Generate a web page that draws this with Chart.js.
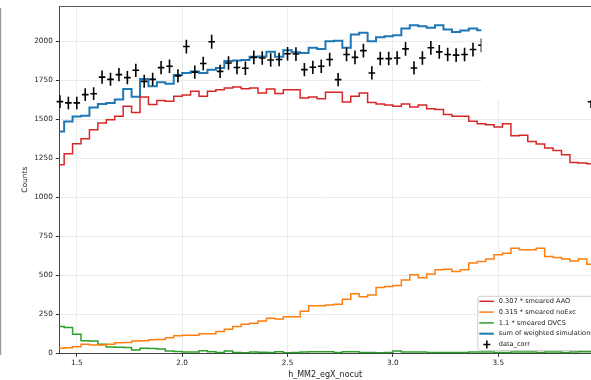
<!DOCTYPE html>
<html>
<head>
<meta charset="utf-8">
<script src="https://cdn.jsdelivr.net/npm/chart.js@4.4.1/dist/chart.umd.min.js"></script>
<style>
    html, body { margin: 0; padding: 0; background: #fff; }
    #wrap { width: 591px; height: 380px; }
</style>
</head>
<body>
<div id="wrap"><canvas id="chartMM2" width="591" height="380"></canvas></div>
<script>
// ============================================================
// h_MM2_egX_nocut - weighted simulations vs data
// ============================================================

var binWidth = 0.04;
var binCenters = [
    1.42, 1.46, 1.50, 1.54, 1.58, 1.62, 1.66, 1.70, 1.74, 1.78,
    1.82, 1.86, 1.90, 1.94, 1.98, 2.02, 2.06, 2.10, 2.14, 2.18,
    2.22, 2.26, 2.30, 2.34, 2.38, 2.42, 2.46, 2.50, 2.54, 2.58,
    2.62, 2.66, 2.70, 2.74, 2.78, 2.82, 2.86, 2.90, 2.94, 2.98,
    3.02, 3.06, 3.10, 3.14, 3.18, 3.22, 3.26, 3.30, 3.34, 3.38,
    3.42, 3.46, 3.50, 3.54, 3.58, 3.62, 3.66, 3.70, 3.74, 3.78,
    3.82, 3.86, 3.90, 3.94
];

var aaoValues = [
    1208, 1279, 1343, 1375, 1433, 1476, 1497, 1519, 1583, 1543,
    1642, 1594, 1621, 1615, 1647, 1656, 1679, 1647, 1679, 1690,
    1701, 1707, 1696, 1701, 1669, 1694, 1665, 1690, 1690, 1637,
    1643, 1632, 1673, 1673, 1611, 1647, 1669, 1608, 1598, 1592,
    1583, 1598, 1579, 1592, 1568, 1562, 1530, 1519, 1519, 1487,
    1472, 1465, 1451, 1472, 1395, 1397, 1358, 1341, 1316, 1300,
    1273, 1223, 1219, 1215
];

var noExcValues = [
    32, 36, 42, 58, 53, 53, 58, 68, 70, 79,
    81, 87, 89, 100, 113, 115, 115, 125, 125, 139,
    154, 171, 186, 193, 207, 225, 220, 235, 235, 270,
    304, 304, 310, 314, 347, 381, 363, 374, 421, 428,
    434, 470, 503, 485, 509, 535, 539, 524, 535, 578,
    588, 605, 631, 642, 674, 663, 663, 674, 620, 614,
    605, 592, 605, 571
];

var dvcsValues = [
    171, 165, 122, 81, 79, 58, 40, 39, 37, 21,
    32, 30, 28, 15, 12, 8, 8, 17, 10, 5,
    14, 5, 4, 8, 6, 5, 10, 3, 5, 8,
    10, 10, 10, 5, 10, 10, 5, 5, 3, 5,
    14, 8, 8, 8, 5, 5, 5, 5, 5, 8,
    8, 8, 5, 5, 8, 8, 8, 5, 8, 8,
    5, 8, 10, 10
];

// values hidden behind the pasted-over box are left null
var sumValues = [
    1422, 1485, 1517, 1522, 1575, 1598, 1605, 1626, 1694, 1645,
    1758, 1711, 1738, 1727, 1784, 1797, 1806, 1797, 1818, 1828,
    1874, 1876, 1880, 1900, 1903, 1932, 1900, 1942, 1930, 1925,
    1958, 1951, 2000, 2004, 1958, 2043, 2054, 2000, 2026, 2032,
    2039, 2082, 2103, 2096, 2086, 2103, 2075, 2060, 2069, 2082,
    2071, null, null, null, null, null, null, null, null, null,
    null, null, null, null
];

var dataCorr = [
    1613, 1605, 1605, 1658, 1664, 1770, 1756, 1786, 1767, 1814,
    1743, 1756, 1831, 1840, 1778, 1966, 1802, 1857, 1997, 1807,
    1861, 1832, 1827, 1897, 1893, 1880, 1883, 1920, 1918, 1818,
    1833, 1840, 1883, 1754, 1915, 1897, 1940, 1797, 1889, 1889,
    1893, 1951, 1829, 1893, 1958, 1932, 1915, 1911, 1915, 1947,
    1974, null, null, null, null, null, null, null, null, null,
    null, null, null, 1612
];

var xTicks = [1.5, 2.0, 2.5, 3.0, 3.5];
var yTicks = [0, 250, 500, 750, 1000, 1250, 1500, 1750, 2000];

var FONT = 'DejaVu Sans';
var colors = { aao: '#d62728', noexc: '#ff7f0e', dvcs: '#2ca02c', sum: '#1f77b4', data: '#000000' };

function stepPoints(vals) {
    var last = -1;
    vals.forEach(function(v, i) { if (v !== null) last = i; });
    var pts = [];
    for (var i = 0; i <= last; i++) pts.push({ x: binCenters[i] - binWidth / 2, y: vals[i] });
    pts.push({ x: binCenters[last] + binWidth / 2, y: vals[last] });
    return pts;
}

function markerPoints(vals) {
    var pts = [];
    vals.forEach(function(v, i) { if (v !== null) pts.push({ x: binCenters[i], y: v }); });
    return pts;
}

function stepSet(label, vals, color, width) {
    return { label: label, data: stepPoints(vals), borderColor: color, backgroundColor: color,
             borderWidth: width, stepped: 'before', pointRadius: 0, fill: false, showLine: true };
}

// error bars, the white box over the top right, top spine and the legend
var overlay = {
    id: 'overlay',
    afterDatasetsDraw: function(chart) {
        var ctx = chart.ctx, area = chart.chartArea;
        var xs = chart.scales.x, ys = chart.scales.y;
        var W = chart.width;

        ctx.save();
        ctx.beginPath();
        ctx.rect(area.left, area.top, W - area.left, area.bottom - area.top);
        ctx.clip();
        ctx.strokeStyle = colors.data;
        ctx.lineWidth = 1.6;
        chart.data.datasets[0].data.forEach(function(p) {
            var px = xs.getPixelForValue(p.x);
            var e = Math.sqrt(p.y);
            ctx.beginPath();
            ctx.moveTo(px, ys.getPixelForValue(p.y - e));
            ctx.lineTo(px, ys.getPixelForValue(p.y + e));
            ctx.stroke();
        });
        ctx.restore();

        // pasted-over white box
        var mx = xs.getPixelForValue(3.42);
        var my = ys.getPixelForValue(1622);
        ctx.fillStyle = '#ffffff';
        ctx.fillRect(mx, area.top + 1, W - mx, my - area.top - 1);

        // top spine
        ctx.strokeStyle = '#555';
        ctx.lineWidth = 1.2;
        ctx.beginPath();
        ctx.moveTo(area.left, area.top + 0.5);
        ctx.lineTo(W, area.top + 0.5);
        ctx.stroke();

        // screenshot edge on the far left
        ctx.fillStyle = '#9a9a9a';
        ctx.fillRect(0, 8, 1.2, 347);

        // legend
        var bx = area.left + 418, by = area.bottom - 57.5, bw = 130, bh = 54.2;
        ctx.fillStyle = 'rgba(255,255,255,0.85)';
        ctx.strokeStyle = '#cfcfcf';
        ctx.lineWidth = 1;
        ctx.beginPath();
        ctx.roundRect(bx + 0.5, by + 0.5, bw, bh, 2.5);
        ctx.fill();
        ctx.stroke();

        var order = [1, 2, 3, 4, 0];
        ctx.font = '6.6px "' + FONT + '"';
        ctx.textBaseline = 'middle';
        ctx.textAlign = 'left';
        order.forEach(function(di, row) {
            var ds = chart.data.datasets[di];
            var ry = by + 5.5 + row * 10.8;
            if (di === 0) {
                ctx.strokeStyle = colors.data;
                ctx.lineWidth = 1.6;
                ctx.beginPath();
                ctx.moveTo(bx + 6, ry); ctx.lineTo(bx + 13, ry);
                ctx.moveTo(bx + 9.5, ry - 4); ctx.lineTo(bx + 9.5, ry + 4);
                ctx.stroke();
            } else {
                ctx.strokeStyle = ds.borderColor;
                ctx.lineWidth = ds.borderWidth;
                ctx.beginPath();
                ctx.moveTo(bx + 2, ry); ctx.lineTo(bx + 16.5, ry);
                ctx.stroke();
            }
            ctx.fillStyle = '#222';
            ctx.fillText(ds.label, bx + 21.5, ry);
        });
    }
};

function renderChart() {
    var canvas = document.getElementById('chartMM2');
    new Chart(canvas, {
        type: 'line',
        data: {
            datasets: [
                { label: 'data_corr', data: markerPoints(dataCorr), showLine: false, clip: 8,
                  pointStyle: 'line', pointRadius: 3.3, pointHoverRadius: 3.3,
                  borderColor: colors.data, backgroundColor: colors.data, pointBorderWidth: 1.6 },
                stepSet('0.307 * smeared AAO', aaoValues, colors.aao, 1.5),
                stepSet('0.315 * smeared noExc', noExcValues, colors.noexc, 1.5),
                stepSet('1.1 * smeared DVCS', dvcsValues, colors.dvcs, 1.5),
                stepSet('sum of weighted simulations', sumValues, colors.sum, 2)
            ]
        },
        options: {
            responsive: false, animation: false, devicePixelRatio: 1,
            layout: { autoPadding: false, padding: { top: 6, right: 0, left: 0, bottom: 0 } },
            plugins: { legend: { display: false }, tooltip: { enabled: false } },
            scales: {
                x: {
                    type: 'linear', min: 1.417, max: 3.94,
                    afterBuildTicks: function(s) { s.ticks = xTicks.map(function(v) { return { value: v }; }); },
                    afterFit: function(s) { s.height = 26.7; s.paddingLeft = 0; s.paddingRight = 0; },
                    grid: { color: '#ebebeb', tickColor: '#333', tickLength: 3.5 },
                    border: { color: '#444', width: 1 },
                    ticks: { color: '#222', padding: 1.5, maxRotation: 0, font: { family: FONT, size: 7.3 },
                             callback: function(v) { return v.toFixed(1); } },
                    title: { display: true, text: 'h_MM2_egX_nocut', color: '#222',
                             font: { family: FONT, size: 8, lineHeight: 1 }, padding: { top: 0, bottom: 1 } }
                },
                y: {
                    type: 'linear', min: 0, max: 2226,
                    afterBuildTicks: function(s) { s.ticks = yTicks.map(function(v) { return { value: v }; }); },
                    afterFit: function(s) { s.width = 59.3; s.paddingTop = 0; s.paddingBottom = 0; },
                    grid: { color: '#ebebeb', tickColor: '#333', tickLength: 3.5 },
                    border: { color: '#444', width: 1 },
                    ticks: { color: '#222', padding: 3, font: { family: FONT, size: 7.3 },
                             callback: function(v) { return String(v); } },
                    title: { display: true, text: 'Counts', color: '#222',
                             font: { family: FONT, size: 7.5, lineHeight: 1.2 }, padding: { top: 20.5, bottom: 0 } }
                }
            }
        },
        plugins: [overlay]
    });
}

renderChart();
</script>
</body>
</html>
